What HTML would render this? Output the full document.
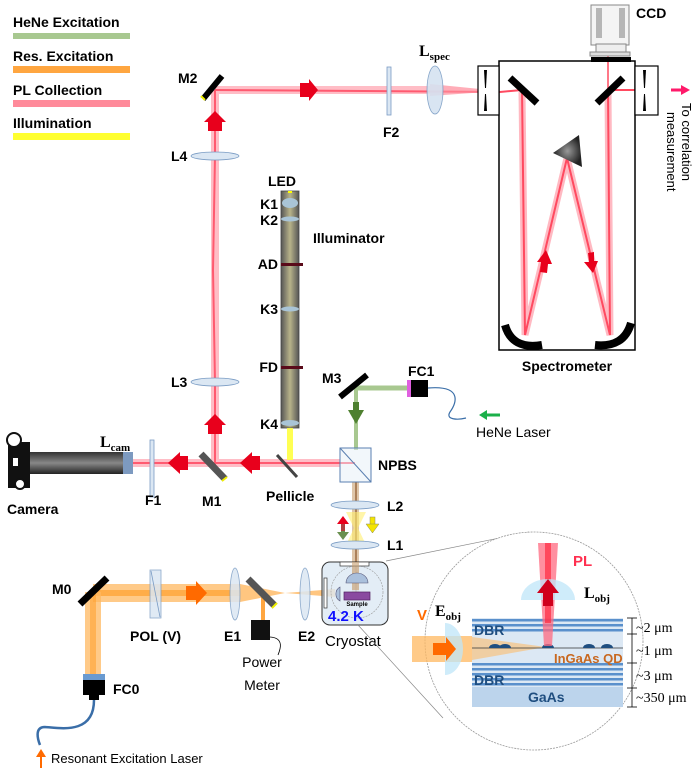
<!DOCTYPE html>
<html><head><meta charset="utf-8"><style>
html,body{margin:0;padding:0;background:#fff;}
svg{display:block;font-family:"Liberation Sans",sans-serif;}
.b{font-weight:bold;font-size:14px;}
.n{font-size:14px;}
</style></head><body>
<svg width="700" height="778" viewBox="0 0 700 778" xmlns="http://www.w3.org/2000/svg">
<defs>
<linearGradient id="tube" x1="0" x2="1"><stop offset="0" stop-color="#555"/><stop offset="0.5" stop-color="#b8b38a"/><stop offset="1" stop-color="#555"/></linearGradient>
<linearGradient id="cam" x1="0" y1="0" x2="0" y2="1"><stop offset="0" stop-color="#333"/><stop offset="0.5" stop-color="#888"/><stop offset="1" stop-color="#222"/></linearGradient>
<radialGradient id="prism"><stop offset="0" stop-color="#999"/><stop offset="1" stop-color="#222"/></radialGradient>
</defs>

<!-- Legend -->
<text x="13" y="27" class="b">HeNe Excitation</text>
<rect x="13" y="33" width="117" height="6" fill="#a8c890"/>
<text x="13" y="61" class="b">Res. Excitation</text>
<rect x="13" y="66" width="117" height="7" fill="#ffa640"/>
<text x="13" y="95" class="b">PL Collection</text>
<rect x="13" y="100" width="117" height="7" fill="#ff8a9a"/>
<text x="13" y="128" class="b">Illumination</text>
<rect x="13" y="133" width="117" height="7" fill="#ffff30"/>

<!-- PL beams -->
<g stroke="#ff9aa8" stroke-width="8" opacity="0.65" fill="none">
<line x1="215" y1="90" x2="430" y2="90"/>
<line x1="215" y1="90" x2="215" y2="467"/>
<line x1="133" y1="463" x2="340" y2="463"/>
</g>
<g stroke="#ff5a70" stroke-width="2" fill="none">
<line x1="215" y1="90" x2="500" y2="92"/>
<polyline points="215,90 215,156 213,270 215,382 215,467"/>
<line x1="133" y1="463" x2="355" y2="463"/>
</g>
<polygon points="430,84 500,91 430,96" fill="#ff8a9a" opacity="0.7"/>
<!-- spectrometer internal beams -->
<g stroke="#ff8a9a" stroke-width="7" opacity="0.6" fill="none">
<polyline points="522,92 525,335 567,158 610,335 608,92"/>
</g>
<g stroke="#ff4a60" stroke-width="2" fill="none">
<line x1="500" y1="92" x2="522" y2="90"/>
<polyline points="522,90 525,335 567,158 610,335 608,90 658,90"/>
<line x1="608" y1="90" x2="608" y2="45" stroke-width="1.5"/>
</g>

<!-- arrows red -->
<g fill="#e8001c">
<polygon points="300,83 309,83 309,79 318,90 309,101 309,97 300,97"/>
<polygon points="208,131 208,122 204,122 215,111 226,122 222,122 222,131"/>
<polygon points="208,434 208,425 204,425 215,414 226,425 222,425 222,434"/>
<polygon points="188,456 180,456 180,452 168,463 180,474 180,470 188,470"/>
<polygon points="260,456 252,456 252,452 240,463 252,474 252,470 260,470"/>
<polygon points="540,272 541,262 537,262 546,250 552,264 548,264 547,273"/>
<polygon points="588,253 589,262 584,262 593,273 598,261 594,261 594,252"/>
</g>

<!-- M2 -->
<line x1="222" y1="76" x2="203" y2="99" stroke="#000" stroke-width="6"/>
<line x1="201" y1="96" x2="205" y2="100" stroke="#ee0" stroke-width="2"/>
<text x="178" y="83" class="b">M2</text>
<!-- F2 -->
<rect x="387" y="67" width="4" height="48" fill="#dbe7f3" stroke="#7a9cc4" stroke-width="0.8"/>
<text x="383" y="137" class="b">F2</text>
<!-- Lspec -->
<ellipse cx="435" cy="90" rx="8" ry="24" fill="#d5e3f1" stroke="#7a9cc4" stroke-width="0.8" opacity="0.9"/>
<text x="419" y="56" font-family="Liberation Serif" font-weight="bold" font-size="16">L<tspan font-size="11" dy="4">spec</tspan></text>

<!-- Spectrometer -->
<rect x="499" y="61" width="136" height="289" fill="none" stroke="#000" stroke-width="1.5"/>
<rect x="478" y="66" width="21" height="49" fill="#fff" stroke="#000" stroke-width="1.2"/>
<rect x="635" y="66" width="23" height="49" fill="#fff" stroke="#000" stroke-width="1.2"/>
<polygon points="484,70 487,70 486,88 485,88" fill="#000"/><polygon points="484,111 487,111 486,94 485,94" fill="#000"/>
<polygon points="643,70 646,70 645,88 644,88" fill="#000"/><polygon points="643,111 646,111 645,94 644,94" fill="#000"/>
<line x1="510" y1="78" x2="537" y2="103" stroke="#000" stroke-width="7"/>
<line x1="623" y1="78" x2="597" y2="103" stroke="#000" stroke-width="7"/>
<polygon points="553,153 579,135 582,167" fill="url(#prism)"/>
<path d="M505,325 Q512,350 542,345" stroke="#000" stroke-width="8" fill="none"/>
<path d="M631,323 Q624,348 595,345" stroke="#000" stroke-width="8" fill="none"/>
<text x="567" y="371" class="b" text-anchor="middle" font-size="15">Spectrometer</text>
<!-- CCD -->
<rect x="591" y="5" width="38" height="40" fill="#f4f4f4" stroke="#888"/>
<rect x="596" y="8" width="6" height="30" fill="#777" opacity="0.5"/>
<rect x="619" y="8" width="6" height="30" fill="#777" opacity="0.5"/>
<rect x="596" y="44" width="30" height="8" fill="#eee" stroke="#888"/>
<rect x="590" y="52" width="40" height="4" fill="#ddd" stroke="#888"/>
<rect x="591" y="57" width="40" height="5" fill="#000"/>
<text x="636" y="18" class="b">CCD</text>
<!-- exit arrow + text -->
<line x1="671" y1="90" x2="682" y2="90" stroke="#ff1a6a" stroke-width="3"/>
<polygon points="681,85 690,90 681,95" fill="#ff1a6a"/>
<text transform="translate(682,103) rotate(90)" font-size="13" >To correlation</text>
<text transform="translate(667,112) rotate(90)" font-size="13">measurement</text>

<!-- L4, L3 -->
<ellipse cx="215" cy="156" rx="24" ry="4" fill="#dbe7f3" stroke="#7a9cc4" stroke-width="0.8"/>
<text x="171" y="161" class="b">L4</text>
<ellipse cx="215" cy="382" rx="24" ry="4" fill="#dbe7f3" stroke="#7a9cc4" stroke-width="0.8"/>
<text x="171" y="387" class="b">L3</text>

<!-- Illuminator -->
<rect x="281" y="191" width="18" height="237" fill="url(#tube)" stroke="#444" stroke-width="0.8"/>
<rect x="288" y="191" width="4" height="2" fill="#ff0"/>
<ellipse cx="290" cy="203" rx="8" ry="5" fill="#a9c4d6"/>
<ellipse cx="290" cy="219" rx="9" ry="2.5" fill="#a9c4d6"/>
<rect x="281" y="263" width="22" height="3" fill="#5a0a1a"/>
<ellipse cx="290" cy="309" rx="9" ry="2.5" fill="#a9c4d6"/>
<rect x="281" y="366" width="22" height="3" fill="#5a0a1a"/>
<ellipse cx="290" cy="423" rx="9" ry="3" fill="#a9c4d6"/>
<rect x="287" y="428" width="6" height="32" fill="#ffff40" opacity="0.9"/>
<g class="b" text-anchor="end"><text x="296" y="186">LED</text><text x="278" y="209">K1</text><text x="278" y="225">K2</text><text x="278" y="269">AD</text><text x="278" y="314">K3</text><text x="278" y="372">FD</text><text x="278" y="429">K4</text></g>
<text x="313" y="243" class="b" font-size="15">Illuminator</text>

<!-- HeNe path -->
<line x1="356" y1="388" x2="408" y2="388" stroke="#a8c890" stroke-width="5"/>
<line x1="356" y1="388" x2="356" y2="450" stroke="#a8c890" stroke-width="4"/>
<line x1="367" y1="375" x2="340" y2="397" stroke="#000" stroke-width="6"/>
<text x="322" y="383" class="b">M3</text>
<rect x="407" y="380" width="4" height="17" fill="#e060e0"/>
<rect x="411" y="380" width="17" height="17" fill="#000"/>
<path d="M428,388 C465,385 455,405 450,412 C445,420 458,420 466,418" stroke="#3a6ea8" stroke-width="1.2" fill="none"/>
<text x="408" y="376" class="b">FC1</text>
<polygon points="348,410 364,410 356,424" fill="#4e8030"/><rect x="353" y="402" width="6" height="9" fill="#4e8030"/>
<line x1="485" y1="415" x2="500" y2="415" stroke="#1bb04a" stroke-width="3"/><polygon points="487,410 479,415 487,420" fill="#1bb04a"/>
<text x="476" y="437" class="n">HeNe Laser</text>

<!-- vertical beam below NPBS -->
<rect x="352" y="482" width="7" height="112" fill="#c9a070" opacity="0.6"/>
<line x1="356" y1="482" x2="356" y2="594" stroke="#9a6a40" stroke-width="1.5"/>
<polygon points="346,512 366,512 358,528 366,545 346,545 354,528" fill="#ffef70" opacity="0.6"/>
<!-- NPBS -->
<rect x="340" y="448" width="31" height="34" fill="#e6eff8" fill-opacity="0.5" stroke="#5a7fb0"/>
<line x1="340" y1="448" x2="371" y2="482" stroke="#5a7fb0"/>
<text x="378" y="470" class="b">NPBS</text>
<!-- L2 L1 -->
<ellipse cx="355" cy="505" rx="24" ry="4" fill="#dbe7f3" stroke="#7a9cc4" stroke-width="0.8"/>
<text x="387" y="511" class="b">L2</text>
<ellipse cx="355" cy="545" rx="24" ry="4" fill="#dbe7f3" stroke="#7a9cc4" stroke-width="0.8"/>
<text x="387" y="550" class="b">L1</text>
<polygon points="343,516 337,524 349,524" fill="#e8001c"/><rect x="341" y="524" width="4" height="7" fill="#b04040"/><rect x="341" y="531" width="4" height="3" fill="#6a9050"/><polygon points="337,532 349,532 343,540" fill="#6a9050"/>
<rect x="370" y="517" width="5" height="8" fill="#f4e400" stroke="#886" stroke-width="0.5"/><polygon points="366,524 379,524 372.5,533" fill="#f4e400" stroke="#886" stroke-width="0.5"/>

<!-- Camera -->
<rect x="30" y="452" width="103" height="22" fill="url(#cam)"/>
<rect x="123" y="452" width="10" height="22" fill="#7d9ac0"/>
<rect x="8" y="442" width="22" height="46" fill="#111"/>
<circle cx="14" cy="440" r="7" fill="#fff" stroke="#111" stroke-width="2"/>
<circle cx="20" cy="484" r="5" fill="#fff" stroke="#111" stroke-width="2"/>
<rect x="13" y="458" width="5" height="8" fill="#fff"/>
<text x="7" y="514" class="b" font-size="15">Camera</text>
<text x="100" y="447" font-family="Liberation Serif" font-weight="bold" font-size="16">L<tspan font-size="11" dy="4">cam</tspan></text>
<rect x="150" y="440" width="4" height="57" fill="#dbe7f3" stroke="#7a9cc4" stroke-width="0.8"/>
<text x="145" y="505" class="b">F1</text>
<line x1="201" y1="454" x2="225" y2="479" stroke="#555" stroke-width="7"/>
<line x1="222" y1="481" x2="227" y2="477" stroke="#ee0" stroke-width="2"/>
<text x="202" y="506" class="b">M1</text>
<line x1="277" y1="455" x2="297" y2="477" stroke="#444" stroke-width="3"/>
<text x="266" y="501" class="b">Pellicle</text>

<!-- orange beams -->
<rect x="93" y="584" width="237" height="18" fill="#ffb860" opacity="0.75"/>
<rect x="93" y="590" width="237" height="6" fill="#ff9a20" opacity="0.6"/>
<rect x="85" y="592" width="16" height="82" fill="#ffb860" opacity="0.75"/>
<rect x="90" y="592" width="6" height="82" fill="#ff9a20" opacity="0.5"/>
<rect x="240" y="580" width="95" height="26" fill="#fff"/>
<polygon points="240,584 285,593 240,602" fill="#ffb860" opacity="0.8"/>
<polygon points="285,593 335,589 335,597" fill="#ffb860" opacity="0.8"/>
<rect x="261" y="596" width="4" height="24" fill="#ffa640"/>
<polygon points="186,586 196,586 196,581 207,593 196,605 196,600 186,600" fill="#ff6a00"/>
<!-- M0 -->
<line x1="80" y1="604" x2="107" y2="578" stroke="#000" stroke-width="7"/>
<text x="52" y="594" class="b">M0</text>
<!-- FC0 -->
<rect x="83" y="674" width="22" height="6" fill="#6a9ad0"/>
<rect x="83" y="680" width="22" height="15" fill="#000"/>
<rect x="89" y="695" width="10" height="5" fill="#000"/>
<text x="113" y="694" class="b">FC0</text>
<path d="M94,700 C94,735 60,728 45,727 C34,727 38,740 40,745" stroke="#3a6ea8" stroke-width="2.5" fill="none"/>
<line x1="41" y1="755" x2="41" y2="768" stroke="#ff6a00" stroke-width="2"/><polygon points="36,757 46,757 41,749" fill="#ff6a00"/>
<text x="51" y="763" font-size="13">Resonant Excitation Laser</text>
<!-- POL -->
<rect x="150" y="570" width="11" height="48" fill="#dbe7f3" stroke="#7a9cc4" stroke-width="0.8" opacity="0.85"/>
<line x1="151" y1="571" x2="160" y2="617" stroke="#7a9cc4" stroke-width="0.8"/>
<text x="130" y="641" class="b">POL (V)</text>
<!-- E1 -->
<ellipse cx="235" cy="594" rx="5" ry="26" fill="#dbe7f3" stroke="#7a9cc4" stroke-width="0.8" opacity="0.85"/>
<line x1="248" y1="579" x2="275" y2="606" stroke="#555" stroke-width="7"/>
<line x1="272" y1="608" x2="277" y2="603" stroke="#ee0" stroke-width="2"/>
<text x="224" y="641" class="b">E1</text>
<rect x="251" y="620" width="19" height="20" fill="#111"/>
<path d="M270,637 C285,638 280,650 278,655" stroke="#000" stroke-width="0.8" fill="none"/>
<text x="262" y="667" class="n" font-size="15" text-anchor="middle">Power</text>
<text x="262" y="690" class="n" font-size="15" text-anchor="middle">Meter</text>
<!-- E2 -->
<ellipse cx="305" cy="594" rx="5" ry="26" fill="#dbe7f3" stroke="#7a9cc4" stroke-width="0.8" opacity="0.85"/>
<text x="298" y="641" class="b">E2</text>
<!-- Cryostat -->
<rect x="322" y="562" width="66" height="63" rx="8" fill="#dce8f4" fill-opacity="0.8" stroke="#333" stroke-width="1"/>
<circle cx="357" cy="592" r="26" fill="none" stroke="#999" stroke-width="0.6" stroke-dasharray="2,1"/>
<rect x="340" y="562" width="29" height="4" fill="#fff" stroke="#333" stroke-width="0.7"/>
<rect x="324" y="578" width="3" height="30" fill="#fff" stroke="#333" stroke-width="0.7"/>
<rect x="352" y="562" width="7" height="28" fill="#c9a070" opacity="0.6"/>
<path d="M346,583 A11,10 0 0 1 368,583 Z" fill="#aac0dc" stroke="#557" stroke-width="0.6"/>
<path d="M340,587 A8,8 0 0 0 340,601 Z" fill="#aac0dc" stroke="#557" stroke-width="0.6"/>
<rect x="344" y="592" width="26" height="8" fill="#8a4aa0" stroke="#502060" stroke-width="0.7"/>
<text x="357" y="606" font-size="6" font-weight="bold" text-anchor="middle">Sample</text>
<text x="328" y="621" font-size="15" font-weight="bold" fill="#1010ff">4.2 K</text>
<text x="325" y="646" font-size="15">Cryostat</text>

<!-- zoom lines -->
<line x1="386" y1="561" x2="529" y2="532" stroke="#888" stroke-width="0.7"/>
<line x1="358" y1="625" x2="443" y2="718" stroke="#888" stroke-width="0.7"/>
<circle cx="534" cy="641" r="109" fill="#fff" stroke="#999" stroke-width="0.8" stroke-dasharray="2,1"/>

<!-- layers -->
<rect x="472" y="618" width="151" height="89" fill="#dce8f4"/>
<g fill="#5a90cc"><rect x="472" y="619" width="151" height="2.5"/><rect x="472" y="624" width="151" height="2.5"/><rect x="472" y="629" width="151" height="2.5"/><rect x="472" y="663" width="151" height="2.5"/><rect x="472" y="668" width="151" height="2.5"/><rect x="472" y="673" width="151" height="2.5"/><rect x="472" y="678" width="151" height="2.5"/><rect x="472" y="683" width="151" height="2.5"/></g>
<rect x="472" y="687" width="151" height="20" fill="#bcd4ec"/>
<!-- Eobj beam -->
<rect x="412" y="636" width="60" height="26" fill="#ffb860" opacity="0.75"/>
<polygon points="472,637 546,647 472,660" fill="#ffb860" opacity="0.55"/>
<line x1="472" y1="648" x2="623" y2="648" stroke="#333" stroke-width="0.8"/>
<g fill="#1f4e80"><path d="M489,648 a6,4 0 0 1 12,0Z"/><path d="M499,648 a6,4 0 0 1 12,0Z"/><path d="M542,648 a6,4 0 0 1 12,0Z"/><path d="M583,648 a6,4 0 0 1 12,0Z"/><path d="M601,648 a6,4 0 0 1 12,0Z"/></g>
<g font-weight="bold" fill="#1f4e80" font-size="14"><text x="474" y="635">DBR</text><text x="474" y="685">DBR</text><text x="528" y="702">GaAs</text></g>
<text x="554" y="663" font-size="13" font-weight="bold" fill="#c86820">InGaAs QD</text>
<!-- PL beam -->
<polygon points="538,543 558,543 552,646 544,646" fill="#ff6a80" opacity="0.75"/>
<rect x="545" y="543" width="6" height="80" fill="#ff2a40" opacity="0.7"/>
<path d="M521,600 A27,21 0 0 1 575,600 Z" fill="#bfe6f8" opacity="0.75"/>
<polygon points="543,606 543,593 537,593 548,579 559,593 553,593 553,606" fill="#d0001c"/>
<text x="573" y="566" font-size="15" font-weight="bold" fill="#ff3050">PL</text>
<text x="584" y="598" font-family="Liberation Serif" font-weight="bold" font-size="16">L<tspan font-size="11" dy="4">obj</tspan></text>
<path d="M445,623 A18,26 0 0 1 445,675 Z" fill="#bfe6f8" opacity="0.75"/>
<polygon points="433,643 446,643 446,637 456,649 446,661 446,655 433,655" fill="#ff6a00"/>
<text x="417" y="620" font-size="15" font-weight="bold" fill="#ff6a00">V</text>
<text x="435" y="616" font-family="Liberation Serif" font-weight="bold" font-size="16">E<tspan font-size="11" dy="4">obj</tspan></text>
<!-- scale -->
<g stroke="#000" stroke-width="0.8"><line x1="632" y1="618" x2="632" y2="707"/>
<line x1="627" y1="618" x2="637" y2="618"/><line x1="627" y1="634" x2="637" y2="634"/><line x1="627" y1="663" x2="637" y2="663"/><line x1="627" y1="688" x2="637" y2="688"/><line x1="627" y1="707" x2="637" y2="707"/></g>
<g font-family="Liberation Serif" font-size="14"><text x="636" y="632">~2 μm</text><text x="636" y="655">~1 μm</text><text x="636" y="680">~3 μm</text><text x="636" y="702">~350 μm</text></g>
</svg>
</body></html>
